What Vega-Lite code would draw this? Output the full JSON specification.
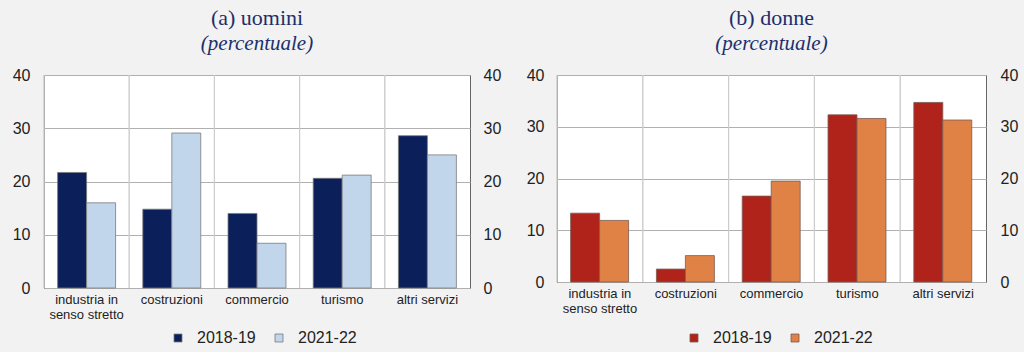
{
  "$schema": "https://vega.github.io/schema/vega-lite/v6.json",
  "background": "#f2f2f2",
  "padding": {"left": 11, "top": 6, "right": 5, "bottom": 5},
  "spacing": 23,
  "datasets": {
    "uomini": [
      {"settore": "industria in senso stretto", "periodo": "2018-19", "valore": 21.7},
      {"settore": "industria in senso stretto", "periodo": "2021-22", "valore": 16.0},
      {"settore": "costruzioni", "periodo": "2018-19", "valore": 14.8},
      {"settore": "costruzioni", "periodo": "2021-22", "valore": 29.1},
      {"settore": "commercio", "periodo": "2018-19", "valore": 14.0},
      {"settore": "commercio", "periodo": "2021-22", "valore": 8.4},
      {"settore": "turismo", "periodo": "2018-19", "valore": 20.6},
      {"settore": "turismo", "periodo": "2021-22", "valore": 21.2},
      {"settore": "altri servizi", "periodo": "2018-19", "valore": 28.6},
      {"settore": "altri servizi", "periodo": "2021-22", "valore": 25.0}
    ],
    "donne": [
      {"settore": "industria in senso stretto", "periodo": "2018-19", "valore": 13.3},
      {"settore": "industria in senso stretto", "periodo": "2021-22", "valore": 11.9},
      {"settore": "costruzioni", "periodo": "2018-19", "valore": 2.5},
      {"settore": "costruzioni", "periodo": "2021-22", "valore": 5.1},
      {"settore": "commercio", "periodo": "2018-19", "valore": 16.6},
      {"settore": "commercio", "periodo": "2021-22", "valore": 19.5},
      {"settore": "turismo", "periodo": "2018-19", "valore": 32.3},
      {"settore": "turismo", "periodo": "2021-22", "valore": 31.6},
      {"settore": "altri servizi", "periodo": "2018-19", "valore": 34.7},
      {"settore": "altri servizi", "periodo": "2021-22", "valore": 31.3}
    ]
  },
  "config": {
    "view": {"stroke": "#666666", "strokeWidth": 1, "fill": "#ffffff"},
    "font": "Liberation Sans",
    "title": {"font": "Liberation Serif", "fontSize": 22, "fontWeight": "normal", "color": "#1d2f6b", "subtitleFont": "Liberation Serif", "subtitleFontSize": 21, "subtitleFontStyle": "italic", "subtitleColor": "#1d2f6b", "anchor": "middle", "offset": 12, "subtitlePadding": 3},
    "axis": {"labelFont": "Liberation Sans", "labelColor": "#222222", "domain": false, "ticks": false}
  },
  "resolve": {"scale": {"color": "independent"}},
  "hconcat": [
    {
      "title": {"text": "(a) uomini", "subtitle": "(percentuale)"},
      "width": 426,
      "height": 213,
      "data": {"name": "uomini"},
      "layer": [
        {
          "mark": {"type": "rule", "color": "#cccccc", "strokeWidth": 1},
          "encoding": {
            "x": {"field": "settore", "type": "nominal", "sort": null, "bandPosition": 0, "title": null,
                  "scale": {"paddingInner": 0, "paddingOuter": 0},
                  "axis": {"labelAngle": 0, "labelFontSize": 13, "labelPadding": 5, "labelLineHeight": 15.5, "grid": false,
                           "labelExpr": "datum.value == 'industria in senso stretto' ? ['industria in', 'senso stretto'] : datum.value"}}
          }
        },
        {
          "mark": {"type": "bar", "stroke": "#7a7a7a", "strokeWidth": 0.8},
          "encoding": {
            "x": {"field": "settore", "type": "nominal", "sort": null, "title": null,
                  "axis": {"labelAngle": 0, "labelFontSize": 13, "labelPadding": 5, "labelLineHeight": 15.5, "grid": false,
                           "labelExpr": "datum.value == 'industria in senso stretto' ? ['industria in', 'senso stretto'] : datum.value"}},
            "xOffset": {"field": "periodo", "type": "nominal", "scale": {"paddingOuter": 0.47, "paddingInner": 0}},
            "y": {"field": "valore", "type": "quantitative", "title": null,
                  "scale": {"domain": [0, 40]},
                  "axis": {"values": [0, 10, 20, 30, 40], "labelFontSize": 16, "labelPadding": 14, "gridColor": "#b0b0b0", "gridWidth": 1}},
            "color": {"field": "periodo", "type": "nominal", "title": null,
                      "scale": {"domain": ["2018-19", "2021-22"], "range": ["#0b1f5a", "#c2d6eb"]},
                      "legend": {"orient": "none", "legendX": 126, "legendY": 255, "direction": "horizontal", "symbolType": "square", "symbolSize": 64, "symbolStrokeColor": "#7a7a7a", "symbolStrokeWidth": 0.8, "labelFontSize": 16, "labelColor": "#222222", "columnPadding": 15, "labelOffset": 11}}
          }
        },
        {
          "mark": {"type": "point", "opacity": 0},
          "encoding": {
            "x": {"field": "settore", "type": "nominal", "sort": null, "title": null,
                  "axis": {"labelAngle": 0, "labelFontSize": 13, "labelPadding": 5, "labelLineHeight": 15.5, "grid": false,
                           "labelExpr": "datum.value == 'industria in senso stretto' ? ['industria in', 'senso stretto'] : datum.value"}},
            "y": {"field": "valore", "type": "quantitative", "axis": {"orient": "right", "values": [0, 10, 20, 30, 40], "labelFontSize": 16, "labelPadding": 13, "grid": false, "title": null}}
          }
        }
      ],
      "resolve": {"axis": {"y": "independent"}, "scale": {"y": "shared"}}
    },
    {
      "title": {"text": "(b) donne", "subtitle": "(percentuale)"},
      "width": 429,
      "height": 207,
      "data": {"name": "donne"},
      "layer": [
        {
          "mark": {"type": "rule", "color": "#cccccc", "strokeWidth": 1},
          "encoding": {
            "x": {"field": "settore", "type": "nominal", "sort": null, "bandPosition": 0, "title": null,
                  "scale": {"paddingInner": 0, "paddingOuter": 0},
                  "axis": {"labelAngle": 0, "labelFontSize": 13, "labelPadding": 5, "labelLineHeight": 15, "grid": false,
                           "labelExpr": "datum.value == 'industria in senso stretto' ? ['industria in', 'senso stretto'] : datum.value"}}
          }
        },
        {
          "mark": {"type": "bar", "stroke": "#7a5a50", "strokeWidth": 0.8},
          "encoding": {
            "x": {"field": "settore", "type": "nominal", "sort": null, "title": null,
                  "axis": {"labelAngle": 0, "labelFontSize": 13, "labelPadding": 5, "labelLineHeight": 15, "grid": false,
                           "labelExpr": "datum.value == 'industria in senso stretto' ? ['industria in', 'senso stretto'] : datum.value"}},
            "xOffset": {"field": "periodo", "type": "nominal", "scale": {"paddingOuter": 0.47, "paddingInner": 0}},
            "y": {"field": "valore", "type": "quantitative", "title": null,
                  "scale": {"domain": [0, 40]},
                  "axis": {"values": [0, 10, 20, 30, 40], "labelFontSize": 16, "labelPadding": 13, "gridColor": "#b0b0b0", "gridWidth": 1}},
            "color": {"field": "periodo", "type": "nominal", "title": null,
                      "scale": {"domain": ["2018-19", "2021-22"], "range": ["#b0231b", "#e08246"]},
                      "legend": {"orient": "none", "legendX": 129, "legendY": 255, "direction": "horizontal", "symbolType": "square", "symbolSize": 64, "symbolStrokeColor": "#7a5a50", "symbolStrokeWidth": 0.8, "labelFontSize": 16, "labelColor": "#222222", "columnPadding": 15, "labelOffset": 11}}
          }
        },
        {
          "mark": {"type": "point", "opacity": 0},
          "encoding": {
            "x": {"field": "settore", "type": "nominal", "sort": null, "title": null,
                  "axis": {"labelAngle": 0, "labelFontSize": 13, "labelPadding": 5, "labelLineHeight": 15, "grid": false,
                           "labelExpr": "datum.value == 'industria in senso stretto' ? ['industria in', 'senso stretto'] : datum.value"}},
            "y": {"field": "valore", "type": "quantitative", "axis": {"orient": "right", "values": [0, 10, 20, 30, 40], "labelFontSize": 16, "labelPadding": 14, "grid": false, "title": null}}
          }
        }
      ],
      "resolve": {"axis": {"y": "independent"}, "scale": {"y": "shared"}}
    }
  ]
}
